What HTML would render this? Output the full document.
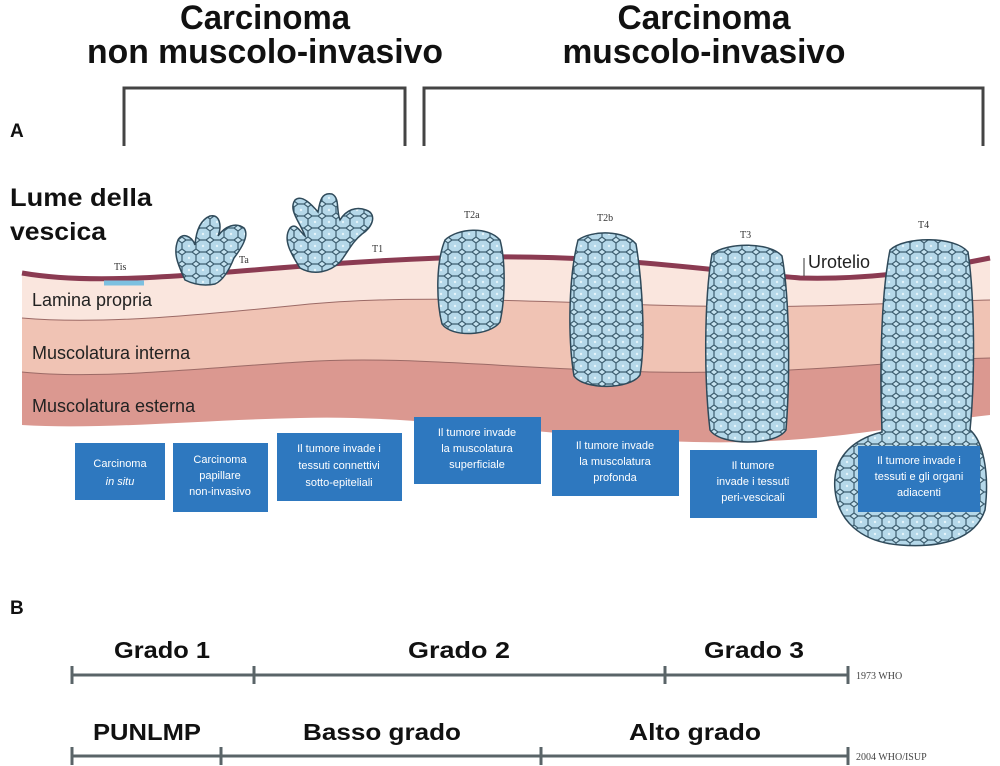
<!DOCTYPE html>
<html><head><meta charset="utf-8"><style>
html,body{margin:0;padding:0;background:#fff;}
svg{display:block;}
</style></head><body>
<svg width="1000" height="766" viewBox="0 0 1000 766" xmlns="http://www.w3.org/2000/svg" font-family="Liberation Sans, sans-serif">
<defs>
<pattern id="cells" width="14" height="12" patternUnits="userSpaceOnUse">
<rect width="14" height="12" fill="#c6e3f0"/>
<path d="M0 3 L4 0 L10 0 L14 3 L14 9 L10 12 L4 12 L0 9 Z" fill="#b5d8e9" stroke="#3d5e70" stroke-width="1.2"/>
<circle cx="7" cy="6" r="1.2" fill="#e6f4fa"/>
</pattern>
</defs>
<!-- headers -->
<g font-weight="bold" fill="#111" font-size="34">
<text x="265" y="29" text-anchor="middle" textLength="170" lengthAdjust="spacingAndGlyphs">Carcinoma</text>
<text x="265" y="63" text-anchor="middle" textLength="356" lengthAdjust="spacingAndGlyphs">non muscolo-invasivo</text>
<text x="704" y="29" text-anchor="middle" textLength="173" lengthAdjust="spacingAndGlyphs">Carcinoma</text>
<text x="704" y="63" text-anchor="middle" textLength="283" lengthAdjust="spacingAndGlyphs">muscolo-invasivo</text>
</g>
<g fill="none" stroke="#444" stroke-width="3">
<path d="M124 146 V88 H405 V146"/>
<path d="M424 146 V88 H983 V146"/>
</g>
<text x="10" y="137" font-weight="bold" font-size="19" fill="#111">A</text>
<text x="10" y="614" font-weight="bold" font-size="19" fill="#111">B</text>
<text x="10" y="206" font-weight="bold" font-size="25" fill="#111" textLength="142" lengthAdjust="spacingAndGlyphs">Lume della</text>
<text x="10" y="240" font-weight="bold" font-size="25" fill="#111" textLength="96" lengthAdjust="spacingAndGlyphs">vescica</text>
<!-- layers -->
<path d="M22 273 C120 290 250 265 440 258 C600 252 700 270 800 278 C880 280 940 268 990 258 L990 415 C900 425 800 450 650 440 C500 430 400 415 300 418 C200 420 100 430 22 425 Z" fill="#db9890"/>
<path d="M22 273 C120 290 250 265 440 258 C600 252 700 270 800 278 C880 280 940 268 990 258 L990 358 C900 360 800 375 650 372 C500 368 400 355 300 362 C200 368 100 380 22 372 Z" fill="#f0c3b4"/>
<path d="M22 273 C120 290 250 265 440 258 C600 252 700 270 800 278 C880 280 940 268 990 258 L990 300 C900 302 800 310 650 305 C500 300 400 295 300 305 C200 315 100 325 22 318 Z" fill="#fae6de"/>
<g fill="none" stroke="#9c6a66" stroke-width="1">
<path d="M22 318 C100 325 200 315 300 305 C400 295 500 300 650 305 C800 310 900 302 990 300"/>
<path d="M22 372 C100 380 200 368 300 362 C400 355 500 368 650 372 C800 375 900 360 990 358"/>
</g>
<path d="M22 273 C120 290 250 265 440 258 C600 252 700 270 800 278 C880 280 940 268 990 258" fill="none" stroke="#8b3b52" stroke-width="5"/>
<path d="M104 283 L144 283" stroke="#7cc0e0" stroke-width="5"/>
<line x1="804" y1="258" x2="804" y2="276" stroke="#333" stroke-width="1"/>
<g font-size="18" fill="#222">
<text x="32" y="306">Lamina propria</text>
<text x="32" y="359">Muscolatura interna</text>
<text x="32" y="412">Muscolatura esterna</text>
<text x="808" y="268" font-size="18">Urotelio</text>
</g>
<g font-size="10" fill="#333" font-family="Liberation Serif, serif">
<text x="114" y="270">Tis</text><text x="239" y="263">Ta</text><text x="372" y="252">T1</text>
<text x="464" y="218">T2a</text><text x="597" y="221">T2b</text><text x="740" y="238">T3</text><text x="918" y="228">T4</text>
</g>
<!-- tumors -->
<g fill="url(#cells)" stroke="#2f4a5a" stroke-width="1.5">
<path d="M185 280 C180 268 172 255 178 240 C182 232 192 236 195 245 C196 232 200 220 210 216 C220 214 222 226 218 236 C225 226 236 222 244 228 C250 236 240 250 234 258 C230 268 224 280 215 284 C205 286 195 285 185 280 Z"/>
<path d="M300 268 C292 255 282 240 290 228 C296 222 300 232 305 236 C300 222 288 210 295 200 C302 194 312 205 318 212 C320 200 322 192 332 194 C340 198 336 210 340 220 C346 210 356 206 366 210 C378 214 372 228 362 234 C352 242 348 252 340 262 C330 272 314 276 300 268 Z"/>
<path d="M445 240 C458 228 488 226 500 240 C506 262 505 300 500 322 C490 336 452 338 442 324 C436 300 436 262 445 240 Z"/>
<path d="M578 240 C592 230 625 230 636 244 C642 280 646 340 640 375 C630 390 584 390 574 376 C568 340 568 280 578 240 Z"/>
<path d="M712 254 C728 242 770 242 782 256 C790 300 790 380 786 430 C776 446 720 446 710 430 C704 380 704 300 712 254 Z"/>
<path d="M890 250 C905 236 955 236 968 252 C975 300 975 380 970 430 C982 440 990 470 985 510 C975 540 940 548 900 545 C860 542 838 520 835 490 C832 460 850 440 882 432 C880 380 880 300 890 250 Z"/>
</g>
<!-- boxes -->
<g fill="#2e78bf">
<rect x="75" y="443" width="90" height="57"/>
<rect x="173" y="443" width="95" height="69"/>
<rect x="277" y="433" width="125" height="68"/>
<rect x="414" y="417" width="127" height="67"/>
<rect x="552" y="430" width="127" height="66"/>
<rect x="690" y="450" width="127" height="68"/>
<rect x="858" y="446" width="122" height="66"/>
</g>
<g fill="#fff" font-size="11" text-anchor="middle">
<text x="120" y="467">Carcinoma</text><text x="120" y="485" font-style="italic">in situ</text>
<text x="220" y="463">Carcinoma</text><text x="220" y="479">papillare</text><text x="220" y="495">non-invasivo</text>
<text x="339" y="452">Il tumore invade i</text><text x="339" y="469">tessuti connettivi</text><text x="339" y="486">sotto-epiteliali</text>
<text x="477" y="436">Il tumore invade</text><text x="477" y="452">la muscolatura</text><text x="477" y="468">superficiale</text>
<text x="615" y="449">Il tumore invade</text><text x="615" y="465">la muscolatura</text><text x="615" y="481">profonda</text>
<text x="753" y="469">Il tumore</text><text x="753" y="485">invade i tessuti</text><text x="753" y="501">peri-vescicali</text>
<text x="919" y="464">Il tumore invade i</text><text x="919" y="480">tessuti e gli organi</text><text x="919" y="496">adiacenti</text>
</g>
<!-- grade scales -->
<g stroke="#5a6468" stroke-width="3" fill="none">
<line x1="72" y1="675" x2="848" y2="675"/>
<line x1="72" y1="666" x2="72" y2="684"/><line x1="254" y1="666" x2="254" y2="684"/><line x1="665" y1="666" x2="665" y2="684"/><line x1="848" y1="666" x2="848" y2="684"/>
<line x1="72" y1="756" x2="848" y2="756"/>
<line x1="72" y1="747" x2="72" y2="765"/><line x1="221" y1="747" x2="221" y2="765"/><line x1="541" y1="747" x2="541" y2="765"/><line x1="848" y1="747" x2="848" y2="765"/>
</g>
<g font-weight="bold" font-size="23" fill="#111" text-anchor="middle">
<text x="162" y="658" textLength="96" lengthAdjust="spacingAndGlyphs">Grado 1</text>
<text x="459" y="658" textLength="102" lengthAdjust="spacingAndGlyphs">Grado 2</text>
<text x="754" y="658" textLength="100" lengthAdjust="spacingAndGlyphs">Grado 3</text>
<text x="147" y="740" textLength="108" lengthAdjust="spacingAndGlyphs">PUNLMP</text>
<text x="382" y="740" textLength="158" lengthAdjust="spacingAndGlyphs">Basso grado</text>
<text x="695" y="740" textLength="132" lengthAdjust="spacingAndGlyphs">Alto grado</text>
</g>
<g font-size="10" fill="#444" font-family="Liberation Serif, serif">
<text x="856" y="679">1973 WHO</text>
<text x="856" y="760">2004 WHO/ISUP</text>
</g>
</svg>
</body></html>
